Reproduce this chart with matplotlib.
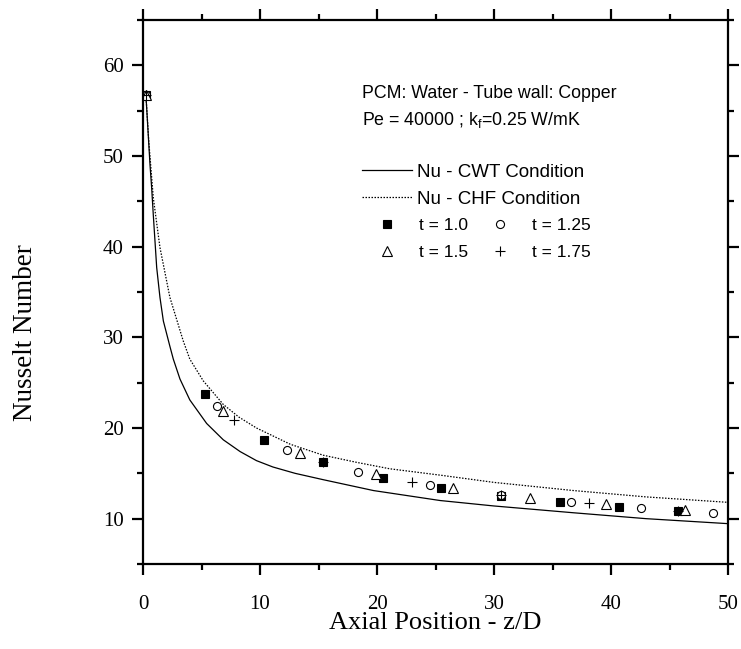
import matplotlib
matplotlib.use("Agg")
import matplotlib.pyplot as plt
from matplotlib.ticker import MultipleLocator

plt.rcParams['font.family'] = ['Liberation Sans', 'DejaVu Sans']
plt.rcParams['mathtext.fontset'] = 'custom'
plt.rcParams['mathtext.rm'] = 'Liberation Sans'
plt.rcParams['mathtext.it'] = 'Liberation Sans:italic'

# ---- data ----
cwt_x = [0.25, 0.6, 0.74, 0.88, 1.17, 1.45, 1.74, 2.3, 2.59, 3.16, 4.0, 5.44, 6.86, 8.3,
         9.7, 11.1, 13.0, 15.4, 19.7, 25.4, 30.0, 36.8, 43.0, 50.0]
cwt_y = [56.7, 49.0, 46.5, 43.5, 37.7, 34.4, 31.8, 29.0, 27.6, 25.4, 23.1, 20.5, 18.7, 17.4,
         16.4, 15.7, 15.0, 14.3, 13.1, 12.0, 11.4, 10.65, 10.0, 9.45]

chf_x = [0.25, 0.5, 0.88, 1.45, 2.3, 3.44, 4.0, 5.15, 6.86, 8.2, 9.7, 12.6, 15.4, 18.3,
         21.1, 25.4, 30.0, 36.8, 43.0, 50.0]
chf_y = [56.7, 51.5, 45.4, 39.9, 34.4, 29.6, 27.6, 25.2, 22.6, 21.2, 20.0, 18.2, 17.0, 16.2,
         15.5, 14.8, 14.0, 13.1, 12.4, 11.8]

t10_x = [0.25, 5.3, 10.3, 15.4, 20.5, 25.5, 30.6, 35.6, 40.7, 45.7]
t10_y = [56.7, 23.7, 18.7, 16.2, 14.5, 13.4, 12.5, 11.8, 11.3, 10.8]

t125_x = [0.25, 6.3, 12.3, 18.4, 24.5, 30.6, 36.6, 42.6, 48.7]
t125_y = [56.7, 22.4, 17.6, 15.2, 13.7, 12.6, 11.8, 11.2, 10.6]

t15_x = [0.25, 6.8, 13.4, 19.9, 26.5, 33.1, 39.6, 46.3]
t15_y = [56.7, 21.9, 17.2, 14.9, 13.4, 12.3, 11.6, 10.95]

t175_x = [0.25, 7.8, 15.4, 23.0, 30.6, 38.1, 45.7]
t175_y = [56.7, 20.9, 16.3, 14.0, 12.6, 11.7, 10.8]

xticks = [0, 10, 20, 30, 40, 50]
yticks = [10, 20, 30, 40, 50, 60]

# ---- figure ----
fig = plt.figure(figsize=(7.41, 6.49), dpi=100)
ax = fig.add_axes([143/741, 1-564/649, 585/741, 544/649])

l1, = ax.plot(cwt_x, cwt_y, color='black', lw=0.9, label='Nu - CWT Condition')
l2, = ax.plot(chf_x, chf_y, color='black', lw=0.9, ls=(0, (1.2, 1.2)),
              label='Nu - CHF Condition')
m1, = ax.plot(t10_x, t10_y, ls='none', marker='s', ms=5.5, mfc='black', mec='black',
              mew=0.8, label='t = 1.0')
m2, = ax.plot(t125_x, t125_y, ls='none', marker='o', ms=5.8, mfc='white', mec='black',
              mew=0.8, label='t = 1.25')
m3, = ax.plot(t15_x, t15_y, ls='none', marker='^', ms=7, mfc='white', mec='black',
              mew=0.8, label='t = 1.5')
m4, = ax.plot(t175_x, t175_y, ls='none', marker='+', ms=6.5, mec='black',
              mew=0.8, label='t = 1.75')

ax.set_xlim(0, 50)
ax.set_ylim(5, 65)
ax.set_xticks(xticks)
ax.set_yticks(yticks)
ax.xaxis.set_minor_locator(MultipleLocator(5))
ax.yaxis.set_minor_locator(MultipleLocator(5))
for s in ax.spines.values():
    s.set_linewidth(1.6)
ax.tick_params(which='both', direction='out', top=True, right=True, width=1.6)
ax.tick_params(which='major', length=8, pad=6)
ax.tick_params(axis='x', which='major', pad=14)
ax.tick_params(which='minor', length=4.5)
for lab in ax.get_xticklabels() + ax.get_yticklabels():
    lab.set_fontfamily('Liberation Serif')
    lab.set_fontsize(15)

ax.set_xlabel('Axial Position - z/D', fontfamily='Liberation Serif', fontsize=19)
ax.set_ylabel('Nusselt Number', fontfamily='Liberation Serif', fontsize=19.5)
ax.xaxis.set_label_coords(0.5, -0.088)
ax.yaxis.set_label_coords(-0.18, 0.425)

ax.text(0.3744, 0.8566, 'PCM: Water - Tube wall: Copper', transform=ax.transAxes,
        fontsize=12.8, va='baseline', ha='left')
ax.text(0.3744, 0.807, r'Pe = 40000 ; k$_\mathrm{f}$=0.25 W/mK', transform=ax.transAxes,
        fontsize=12.8, va='baseline', ha='left')

leg1 = ax.legend(handles=[l1, l2], loc='upper left', bbox_to_anchor=(0.3744, 0.7358),
                 frameon=False, fontsize=13.5, handlelength=2.67, handletextpad=0.27,
                 borderpad=0, borderaxespad=0, labelspacing=0.53)
ax.add_artist(leg1)
ax.legend(handles=[m1, m3, m2, m4], loc='upper left', bbox_to_anchor=(0.4017, 0.637),
          ncol=2, frameon=False, fontsize=12.5, handlelength=1.0, handletextpad=1.36,
          borderpad=0, borderaxespad=0, labelspacing=0.68, columnspacing=1.34)

fig.savefig('out.png', dpi=100)
